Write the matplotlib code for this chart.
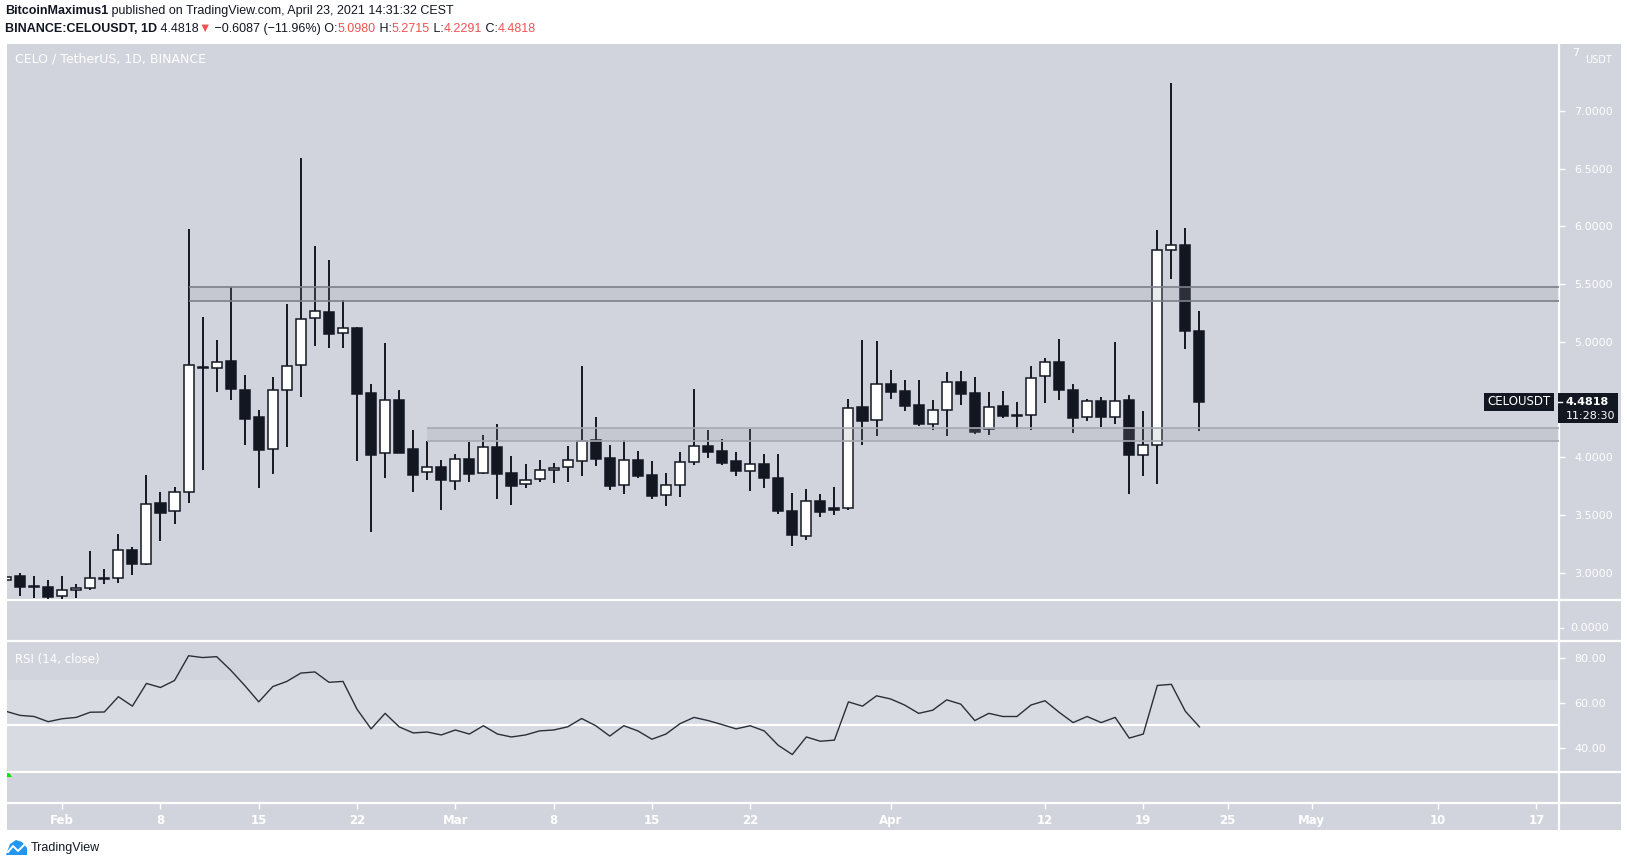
import numpy as np
import pandas as pd
import matplotlib
matplotlib.use("Agg")
import matplotlib.pyplot as plt
import matplotlib.dates as mdates
from matplotlib.patches import Rectangle, Polygon

# --- данные ---
start_date = "2021-01-28"
opens = [2.935, 2.972, 2.885, 2.877, 2.796, 2.848, 2.866, 2.950, 2.952, 3.195,
         3.080, 3.602, 3.532, 3.697, 4.785, 4.771, 4.832, 4.581, 4.350, 4.070,
         4.581, 4.797, 5.205, 5.256, 5.074, 5.120, 4.557, 4.036, 4.494, 4.072,
         3.870, 3.914, 3.793, 3.983, 3.862, 4.087, 3.862, 3.767, 3.810, 3.888,
         3.914, 3.971, 4.150, 3.994, 3.763, 3.974, 3.847, 3.672, 3.758, 3.957,
         4.096, 4.053, 3.966, 3.880, 3.940, 3.821, 3.535, 3.319, 3.619, 3.560,
         3.559, 4.434, 4.322, 4.633, 4.575, 4.452, 4.287, 4.408, 4.650, 4.555,
         4.243, 4.442, 4.365, 4.365, 4.703, 4.824, 4.582, 4.346, 4.485, 4.346,
         4.494, 4.018, 4.105, 5.793, 5.837, 5.098]
highs = [2.990, 2.998, 2.972, 2.937, 2.972, 2.903, 3.189, 3.033, 3.336, 3.224,
         3.847, 3.700, 3.743, 5.978, 5.216, 5.016, 5.476, 4.713, 4.410, 4.696,
         5.328, 6.595, 5.831, 5.709, 5.363, 5.125, 4.635, 4.990, 4.583, 4.237,
         4.142, 3.977, 4.029, 4.133, 4.194, 4.289, 4.012, 3.942, 3.977, 3.951,
         4.098, 4.791, 4.349, 4.107, 4.150, 4.055, 3.968, 3.864, 4.046, 4.592,
         4.237, 4.159, 4.046, 4.246, 4.029, 4.029, 3.691, 3.726, 3.680, 3.745,
         4.505, 5.016, 5.008, 4.757, 4.670, 4.670, 4.497, 4.740, 4.748, 4.696,
         4.566, 4.575, 4.479, 4.791, 4.861, 5.025, 4.636, 4.505, 4.523, 4.999,
         4.540, 4.401, 5.969, 7.243, 5.984, 5.2715]
lows = [2.900, 2.799, 2.785, 2.777, 2.777, 2.785, 2.855, 2.906, 2.914, 2.984,
        3.071, 3.278, 3.425, 3.607, 3.893, 4.569, 4.499, 4.110, 3.737, 3.858,
        4.093, 4.525, 4.967, 4.950, 4.950, 3.971, 3.353, 3.824, 4.035, 3.700,
        3.804, 3.544, 3.717, 3.787, 3.855, 3.642, 3.590, 3.737, 3.789, 3.781,
        3.790, 3.841, 3.928, 3.720, 3.686, 3.823, 3.642, 3.581, 3.660, 3.936,
        3.997, 3.936, 3.841, 3.712, 3.737, 3.512, 3.234, 3.284, 3.480, 3.500,
        3.540, 4.110, 4.187, 4.509, 4.404, 4.275, 4.240, 4.187, 4.457, 4.206,
        4.197, 4.344, 4.248, 4.240, 4.474, 4.495, 4.211, 4.318, 4.266, 4.292,
        3.685, 3.841, 3.773, 5.547, 4.942, 4.2291]
closes = [2.961, 2.880, 2.875, 2.793, 2.848, 2.866, 2.952, 2.956, 3.195, 3.080,
          3.593, 3.521, 3.697, 4.797, 4.775, 4.823, 4.596, 4.336, 4.067, 4.581,
          4.789, 5.196, 5.265, 5.071, 5.118, 4.553, 4.023, 4.494, 4.040, 3.850,
          3.914, 3.807, 3.983, 3.858, 4.087, 3.858, 3.754, 3.801, 3.888, 3.906,
          3.974, 4.139, 3.988, 3.754, 3.974, 3.841, 3.668, 3.758, 3.957, 4.096,
          4.050, 3.954, 3.884, 3.940, 3.824, 3.535, 3.324, 3.619, 3.530, 3.540,
          4.425, 4.318, 4.633, 4.569, 4.448, 4.293, 4.408, 4.650, 4.552, 4.223,
          4.439, 4.361, 4.355, 4.685, 4.824, 4.582, 4.344, 4.485, 4.346, 4.485,
          4.023, 4.105, 5.793, 5.837, 5.098, 4.4818]
rsi = [56.3, 54.5, 54.0, 51.7, 53.0, 53.6, 55.9, 56.0, 62.8, 58.6,
       68.7, 66.9, 70.0, 81.0, 80.2, 80.6, 74.6, 67.8, 60.5, 67.3,
       69.6, 73.3, 73.8, 69.2, 69.6, 57.2, 48.5, 55.4, 49.4, 46.7,
       47.1, 45.8, 48.0, 46.2, 49.9, 46.2, 44.9, 45.8, 47.6, 48.0,
       49.4, 53.1, 49.9, 45.3, 49.9, 47.6, 43.9, 46.2, 50.8, 53.6,
       52.2, 50.4, 48.5, 49.9, 47.6, 41.2, 37.1, 44.9, 43.0, 43.5,
       60.5, 58.6, 63.2, 61.8, 59.1, 55.4, 56.8, 61.4, 59.5, 52.2,
       55.4, 54.0, 54.0, 59.1, 61.0, 55.9, 51.3, 54.0, 51.3, 53.6,
       44.4, 46.2, 67.8, 68.3, 56.3, 49.4]

# зоны поддержки/сопротивления
zone_hi = ("2021-02-10", 5.354, 5.472)
zone_lo = ("2021-02-27", 4.140, 4.252)

# 4.5000 закрыта меткой текущей цены
price_ticks = [3.0, 3.5, 4.0, 5.0, 5.5, 6.0, 6.5, 7.0]
rsi_ticks = [40, 60, 80]
time_ticks = ["2021-02-01", "2021-02-08", "2021-02-15", "2021-02-22", "2021-03-01",
              "2021-03-08", "2021-03-15", "2021-03-22", "2021-04-01", "2021-04-12",
              "2021-04-19", "2021-04-25", "2021-05-01", "2021-05-10", "2021-05-17"]
time_labels = ["Feb", "8", "15", "22", "Mar", "8", "15", "22", "Apr", "12",
               "19", "25", "May", "10", "17"]
last_price = 4.4818

dates = pd.date_range(start_date, periods=len(closes), freq="D")
x = mdates.date2num(dates)

# --- оформление ---
W, H = 1627, 867
BG = "#d1d4dc"
DARK = "#131722"
RED = "#ef5350"

def box(x0, y0, x1, y1):
    return [x0 / W, 1 - y1 / H, (x1 - x0) / W, (y1 - y0) / H]

fig = plt.figure(figsize=(W / 100, H / 100), dpi=100, facecolor="white")

# фон панелей в пикселях
bg = fig.add_axes([0, 0, 1, 1])
bg.set_xlim(0, W)
bg.set_ylim(H, 0)
bg.axis("off")
bg.add_patch(Rectangle((7, 44), 1614, 786, color=BG, lw=0))
bg.add_patch(Rectangle((7, 680), 1552, 91, color="#d9dbe2", lw=0))
for yy in [599.5, 640.5, 771.5, 802.5]:
    bg.plot([7, 1621], [yy, yy], color="white", lw=1.6)
bg.plot([7, 1559], [724.5, 724.5], color="white", lw=1.6)
bg.plot([1559.5, 1559.5], [44, 830], color="white", lw=1.6)

# шапка
renderer = fig.canvas.get_renderer()

def put_pieces(x0, y0, pieces, size):
    xx = x0
    for txt, col, wt in pieces:
        t = bg.text(xx, y0, txt, color=col, fontsize=size, fontweight=wt,
                    va="center", ha="left", family="Liberation Sans")
        bb = t.get_window_extent(renderer=renderer)
        xx += bb.width

put_pieces(5, 11, [("BitcoinMaximus1", DARK, "bold"),
                   (" published on TradingView.com, April 23, 2021 14:31:32 CEST", DARK, "normal")], 9)
put_pieces(5, 29, [("BINANCE:CELOUSDT, 1D", DARK, "bold"),
                   (" 4.4818", DARK, "normal"),
                   ("\u25BC", RED, "normal"),
                   (" \u22120.6087 (\u221211.96%) O:", DARK, "normal"),
                   ("5.0980", RED, "normal"), (" H:", DARK, "normal"),
                   ("5.2715", RED, "normal"), (" L:", DARK, "normal"),
                   ("4.2291", RED, "normal"), (" C:", DARK, "normal"),
                   ("4.4818", RED, "normal")], 9)

bg.text(15, 59, "CELO / TetherUS, 1D, BINANCE", color="white", fontsize=9,
        va="center", ha="left")

# --- цена ---
day_px = 14.04
x_left = x[0] + (7 - 6.04) / day_px
x_right = x_left + (1559 - 7) / day_px

ax = fig.add_axes(box(7, 44, 1559, 599))
ax.set_facecolor("none")
ax.set_xlim(x_left, x_right)
ax.set_ylim(2.7731, 7.5803)
for s in ax.spines.values():
    s.set_visible(False)
ax.set_xticks([])

o = np.array(opens)
c = np.array(closes)
bull = c >= o
bottoms = np.minimum(o, c)
heights = np.maximum(np.abs(c - o), 0.006)
ax.vlines(x, lows, highs, color=DARK, lw=1.4, zorder=2)
ax.bar(x, heights, bottom=bottoms, width=0.72,
       color=np.where(bull, "white", DARK), edgecolor=DARK, lw=1.1, zorder=3)

for zone, lc in [(zone_hi, "#7b7f89"), (zone_lo, "#a6a9b1")]:
    zx = mdates.date2num(pd.Timestamp(zone[0]))
    ax.add_patch(Rectangle((zx, zone[1]), x_right - zx, zone[2] - zone[1],
                           facecolor="#9598a1", alpha=0.2, lw=0, zorder=4))
    ax.hlines([zone[1], zone[2]], zx, x_right, color=lc, lw=1.2, zorder=4)

ax.yaxis.tick_right()
ax.set_yticks(price_ticks)
ax.set_yticklabels([f"{p:.4f}" for p in price_ticks])
ax.tick_params(axis="y", colors="white", labelcolor="white", length=4,
               width=1, pad=7, labelsize=8)

# метка текущей цены
y_last = 111 + (7 - last_price) * 115.45
bg.add_patch(Rectangle((1558, y_last - 9), 60, 30, color=DARK, lw=0, zorder=5))
bg.plot([1558, 1562], [y_last, y_last], color="white", lw=1, zorder=6)
bg.text(1566, y_last, f"{last_price:.4f}", color="white", fontsize=8,
        fontweight="bold", va="center", zorder=6)
bg.text(1566, y_last + 14, "11:28:30", color="white", fontsize=8,
        va="center", zorder=6)
bg.add_patch(Rectangle((1484, y_last - 9), 70, 18, color=DARK, lw=0, zorder=5))
bg.text(1519, y_last, "CELOUSDT", color="white", fontsize=8.5,
        va="center", ha="center", zorder=6)
bg.text(1579, 53, "7", color="white", fontsize=8, va="center", ha="right")
bg.text(1585, 60, "USDT", color="white", fontsize=7, va="center", ha="left")

# --- пустая панель 0.0000 ---
bg.plot([1559, 1563], [628, 628], color="white", lw=1)
bg.text(1570, 628, "0.0000", color="white", fontsize=8, va="center")

# --- RSI ---
axr = fig.add_axes(box(7, 641, 1559, 771))
axr.set_facecolor("none")
axr.set_xlim(x_left, x_right)
axr.set_ylim(60 - (771 - 703) / 2.25, 60 + (703 - 641) / 2.25)
for s in axr.spines.values():
    s.set_visible(False)
axr.set_xticks([])
axr.plot(x, rsi, color="#2a2e39", lw=1.0)
axr.yaxis.tick_right()
axr.set_yticks(rsi_ticks)
axr.set_yticklabels([f"{v:.2f}" for v in rsi_ticks])
axr.tick_params(axis="y", colors="white", labelcolor="white", length=4,
                width=1, pad=7, labelsize=8)
bg.text(15, 659, "RSI (14, close)", color="white", fontsize=8.5, va="center")

# маленький зелёный маркер
bg.add_patch(Polygon([(7, 770), (7, 777), (12, 777)], closed=True,
                     color="#00e600", lw=0))

# --- ось времени ---
axt = fig.add_axes(box(7, 803, 1559, 830))
axt.set_facecolor("none")
axt.set_xlim(x_left, x_right)
axt.set_ylim(0, 1)
for s in axt.spines.values():
    s.set_visible(False)
axt.set_yticks([])
axt.set_xticks(mdates.date2num(pd.to_datetime(time_ticks)))
axt.set_xticklabels(time_labels)
axt.xaxis.tick_top()
axt.tick_params(axis="x", direction="in", length=4, width=1, colors="white",
                labelcolor="white", labelsize=8.5, pad=-17)
for lab in axt.get_xticklabels():
    lab.set_fontweight("bold")

# логотип TradingView
bg.add_patch(Polygon([(6, 855), (10, 844), (16, 840), (22, 842), (27, 848),
                      (27, 855)], closed=True, color="#2196f3", lw=0))
bg.plot([8, 13, 18, 24], [852, 846, 851, 845], color="white", lw=1.4)
bg.text(31, 848, "TradingView", color=DARK, fontsize=9, va="center",
        family="Liberation Sans")

fig.savefig("out.png", dpi=100, facecolor="white")
